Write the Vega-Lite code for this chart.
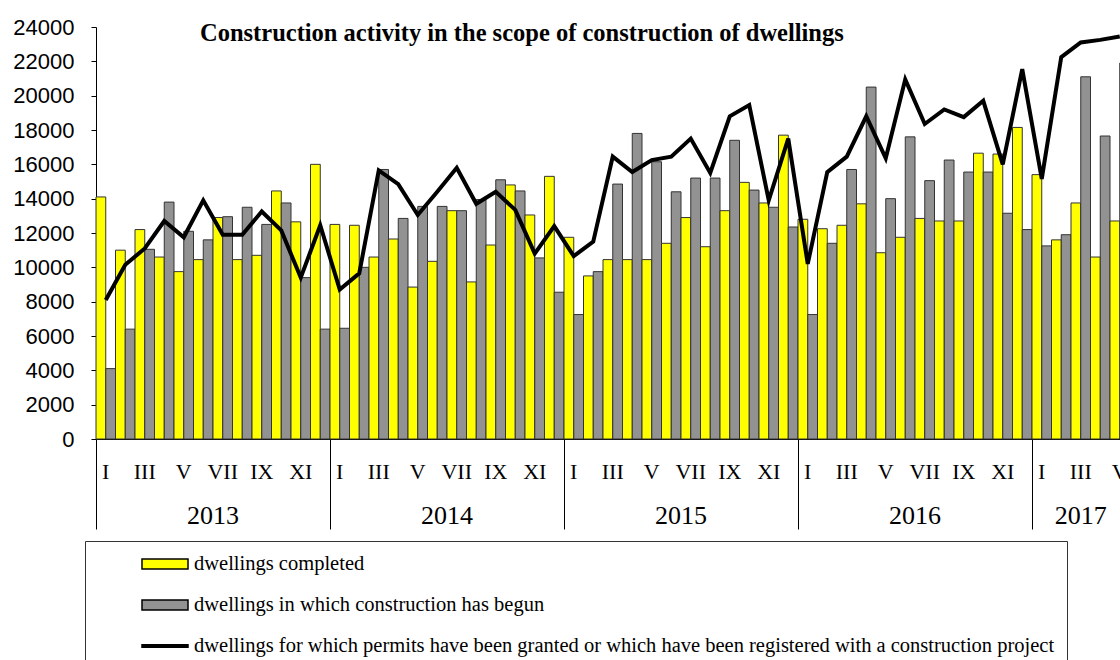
{
  "$schema": "https://vega.github.io/schema/vega-lite/v6.json",
  "autosize": {"type": "none"},
  "padding": {"left": 96, "top": 27, "right": 0, "bottom": 221},
  "width": 1024,
  "height": 412,
  "background": "white",
  "title": {
    "text": "Construction activity in the scope of construction of dwellings",
    "anchor": "start",
    "frame": "group",
    "dx": 104,
    "offset": -30,
    "font": "Liberation Serif",
    "fontSize": 24.5,
    "fontWeight": "bold",
    "color": "black"
  },
  "data": {
    "values": [
      {"key": "2013 I", "completed": 14100, "begun": 4100, "permits": 8100},
      {"key": "2013 II", "completed": 11000, "begun": 6400, "permits": 10150},
      {"key": "2013 III", "completed": 12200, "begun": 11050, "permits": 11100},
      {"key": "2013 IV", "completed": 10600, "begun": 13800, "permits": 12700},
      {"key": "2013 V", "completed": 9750, "begun": 12100, "permits": 11750},
      {"key": "2013 VI", "completed": 10450, "begun": 11600, "permits": 13900},
      {"key": "2013 VII", "completed": 12900, "begun": 12950, "permits": 11900},
      {"key": "2013 VIII", "completed": 10450, "begun": 13500, "permits": 11900},
      {"key": "2013 IX", "completed": 10700, "begun": 12500, "permits": 13250},
      {"key": "2013 X", "completed": 14450, "begun": 13750, "permits": 12150},
      {"key": "2013 XI", "completed": 12650, "begun": 9400, "permits": 9400},
      {"key": "2013 XII", "completed": 16000, "begun": 6400, "permits": 12450},
      {"key": "2014 I", "completed": 12500, "begun": 6450, "permits": 8700},
      {"key": "2014 II", "completed": 12450, "begun": 10000, "permits": 9650},
      {"key": "2014 III", "completed": 10600, "begun": 15700, "permits": 15650},
      {"key": "2014 IV", "completed": 11650, "begun": 12850, "permits": 14850},
      {"key": "2014 V", "completed": 8850, "begun": 13550, "permits": 13050},
      {"key": "2014 VI", "completed": 10350, "begun": 13550, "permits": 14400},
      {"key": "2014 VII", "completed": 13300, "begun": 13300, "permits": 15800},
      {"key": "2014 VIII", "completed": 9150, "begun": 13950, "permits": 13700},
      {"key": "2014 IX", "completed": 11300, "begun": 15100, "permits": 14400},
      {"key": "2014 X", "completed": 14800, "begun": 14450, "permits": 13350},
      {"key": "2014 XI", "completed": 13050, "begun": 10550, "permits": 10800},
      {"key": "2014 XII", "completed": 15300, "begun": 8550, "permits": 12400},
      {"key": "2015 I", "completed": 11750, "begun": 7250, "permits": 10650},
      {"key": "2015 II", "completed": 9500, "begun": 9750, "permits": 11500},
      {"key": "2015 III", "completed": 10450, "begun": 14850, "permits": 16450},
      {"key": "2015 IV", "completed": 10450, "begun": 17800, "permits": 15550},
      {"key": "2015 V", "completed": 10450, "begun": 16150, "permits": 16250},
      {"key": "2015 VI", "completed": 11400, "begun": 14400, "permits": 16450},
      {"key": "2015 VII", "completed": 12900, "begun": 15200, "permits": 17500},
      {"key": "2015 VIII", "completed": 11200, "begun": 15200, "permits": 15500},
      {"key": "2015 IX", "completed": 13300, "begun": 17400, "permits": 18800},
      {"key": "2015 X", "completed": 14950, "begun": 14500, "permits": 19450},
      {"key": "2015 XI", "completed": 13750, "begun": 13500, "permits": 13900},
      {"key": "2015 XII", "completed": 17700, "begun": 12350, "permits": 17500},
      {"key": "2016 I", "completed": 12800, "begun": 7250, "permits": 10200},
      {"key": "2016 II", "completed": 12250, "begun": 11400, "permits": 15550},
      {"key": "2016 III", "completed": 12450, "begun": 15700, "permits": 16450},
      {"key": "2016 IV", "completed": 13700, "begun": 20500, "permits": 18800},
      {"key": "2016 V", "completed": 10850, "begun": 14000, "permits": 16350},
      {"key": "2016 VI", "completed": 11750, "begun": 17600, "permits": 20950},
      {"key": "2016 VII", "completed": 12850, "begun": 15050, "permits": 18350},
      {"key": "2016 VIII", "completed": 12700, "begun": 16250, "permits": 19200},
      {"key": "2016 IX", "completed": 12700, "begun": 15550, "permits": 18750},
      {"key": "2016 X", "completed": 16650, "begun": 15550, "permits": 19700},
      {"key": "2016 XI", "completed": 16600, "begun": 13150, "permits": 16000},
      {"key": "2016 XII", "completed": 18150, "begun": 12200, "permits": 21550},
      {"key": "2017 I", "completed": 15400, "begun": 11250, "permits": 15150},
      {"key": "2017 II", "completed": 11600, "begun": 11900, "permits": 22250},
      {"key": "2017 III", "completed": 13750, "begun": 21100, "permits": 23100},
      {"key": "2017 IV", "completed": 10600, "begun": 17650, "permits": 23250},
      {"key": "2017 V", "completed": 12700, "begun": 21900, "permits": 23450}
    ]
  },
  "transform": [
    {"fold": ["completed", "begun", "permits"], "as": ["series", "value"]}
  ],
  "encoding": {
    "y": {
      "field": "value",
      "type": "quantitative",
      "scale": {"domain": [0, 24000], "nice": false, "zero": true},
      "axis": {
        "title": null,
        "values": [0, 2000, 4000, 6000, 8000, 10000, 12000, 14000, 16000, 18000, 20000, 22000, 24000],
        "format": "d",
        "grid": false,
        "labelFont": "Liberation Sans",
        "labelFontSize": 22,
        "labelColor": "black",
        "labelPadding": 17,
        "tickSize": 5,
        "tickColor": "black",
        "domainColor": "black",
        "labelFlush": false,
        "labelOverlap": false
      }
    }
  },
  "layer": [
    {
      "transform": [{"filter": "datum.series != 'permits'"}],
      "mark": {"type": "bar", "stroke": "#333333", "strokeWidth": 1},
      "encoding": {
        "x": {
          "field": "key",
          "type": "ordinal",
          "sort": null,
          "scale": {"range": [0, 1033.5], "paddingInner": 0, "paddingOuter": 0},
          "axis": {
            "orient": "bottom",
            "title": null,
            "ticks": false,
            "labelAngle": 0,
            "labelFont": "Liberation Serif",
            "labelFontSize": 22,
            "labelColor": "black",
            "labelPadding": 22,
            "labelOverlap": false,
            "labelBound": false,
            "domainColor": "black",
            "labelExpr": "indexof(['I','III','V','VII','IX','XI'], split(datum.value, ' ')[1]) >= 0 ? split(datum.value, ' ')[1] : ''"
          }
        },
        "xOffset": {
          "field": "series",
          "type": "nominal",
          "sort": ["completed", "begun"],
          "scale": {"paddingInner": 0, "paddingOuter": 0}
        },
        "color": {
          "field": "series",
          "type": "nominal",
          "scale": {"domain": ["completed", "begun", "permits"], "range": ["#ffff00", "#929292", "#000000"]},
          "legend": {
            "orient": "none",
            "legendX": -11,
            "legendY": 514,
            "direction": "vertical",
            "title": null,
            "strokeColor": "#333333",
            "fillColor": "white",
            "padding": 12,
            "rowPadding": 19,
            "symbolOffset": 57,
            "labelOffset": 18,
            "symbolSize": 400,
            "symbolStrokeColor": "black",
            "symbolStrokeWidth": 1.5,
            "labelFont": "Liberation Serif",
            "labelFontSize": 20.5,
            "labelColor": "black",
            "labelLimit": 1000,
            "labelExpr": "datum.value == 'completed' ? 'dwellings completed' : datum.value == 'begun' ? 'dwellings in which construction has begun' : 'dwellings for which permits have been granted or which have been registered with a construction project'",
            "encode": {
              "symbols": {
                "update": {
                  "shape": {"signal": "datum.index == 2 ? 'M-2.3,-0.13H2.3V0.13H-2.3Z' : 'M-2.3,-0.5H2.3V0.5H-2.3Z'"},
                  "stroke": {"value": "black"},
                  "strokeWidth": {"value": 1.5},
                  "strokeOpacity": {"value": 1},
                  "opacity": {"value": 1}
                }
              }
            }
          }
        }
      }
    },
    {
      "transform": [{"filter": "datum.series == 'permits'"}],
      "mark": {"type": "line", "color": "black", "strokeWidth": 4, "strokeJoin": "miter"},
      "encoding": {
        "x": {
          "field": "key",
          "type": "ordinal",
          "sort": null,
          "axis": {
            "orient": "bottom",
            "title": null,
            "domain": false,
            "bandPosition": 0,
            "values": ["2013 I", "2014 I", "2015 I", "2016 I", "2017 I"],
            "tickSize": 90,
            "tickColor": "black",
            "tickWidth": 1,
            "labelAngle": 0,
            "labelFont": "Liberation Serif",
            "labelFontSize": 26,
            "labelColor": "black",
            "labelPadding": -27,
            "labelOverlap": false,
            "labelBound": false,
            "labelOffset": {"condition": {"test": "datum.value == '2017 I'", "value": 39}, "value": 107.25},
            "labelExpr": "split(datum.value, ' ')[0]"
          }
        }
      }
    }
  ],
  "resolve": {"axis": {"x": "independent"}},
  "config": {
    "view": {"stroke": null},
    "axis": {"domainColor": "black"}
  }
}
